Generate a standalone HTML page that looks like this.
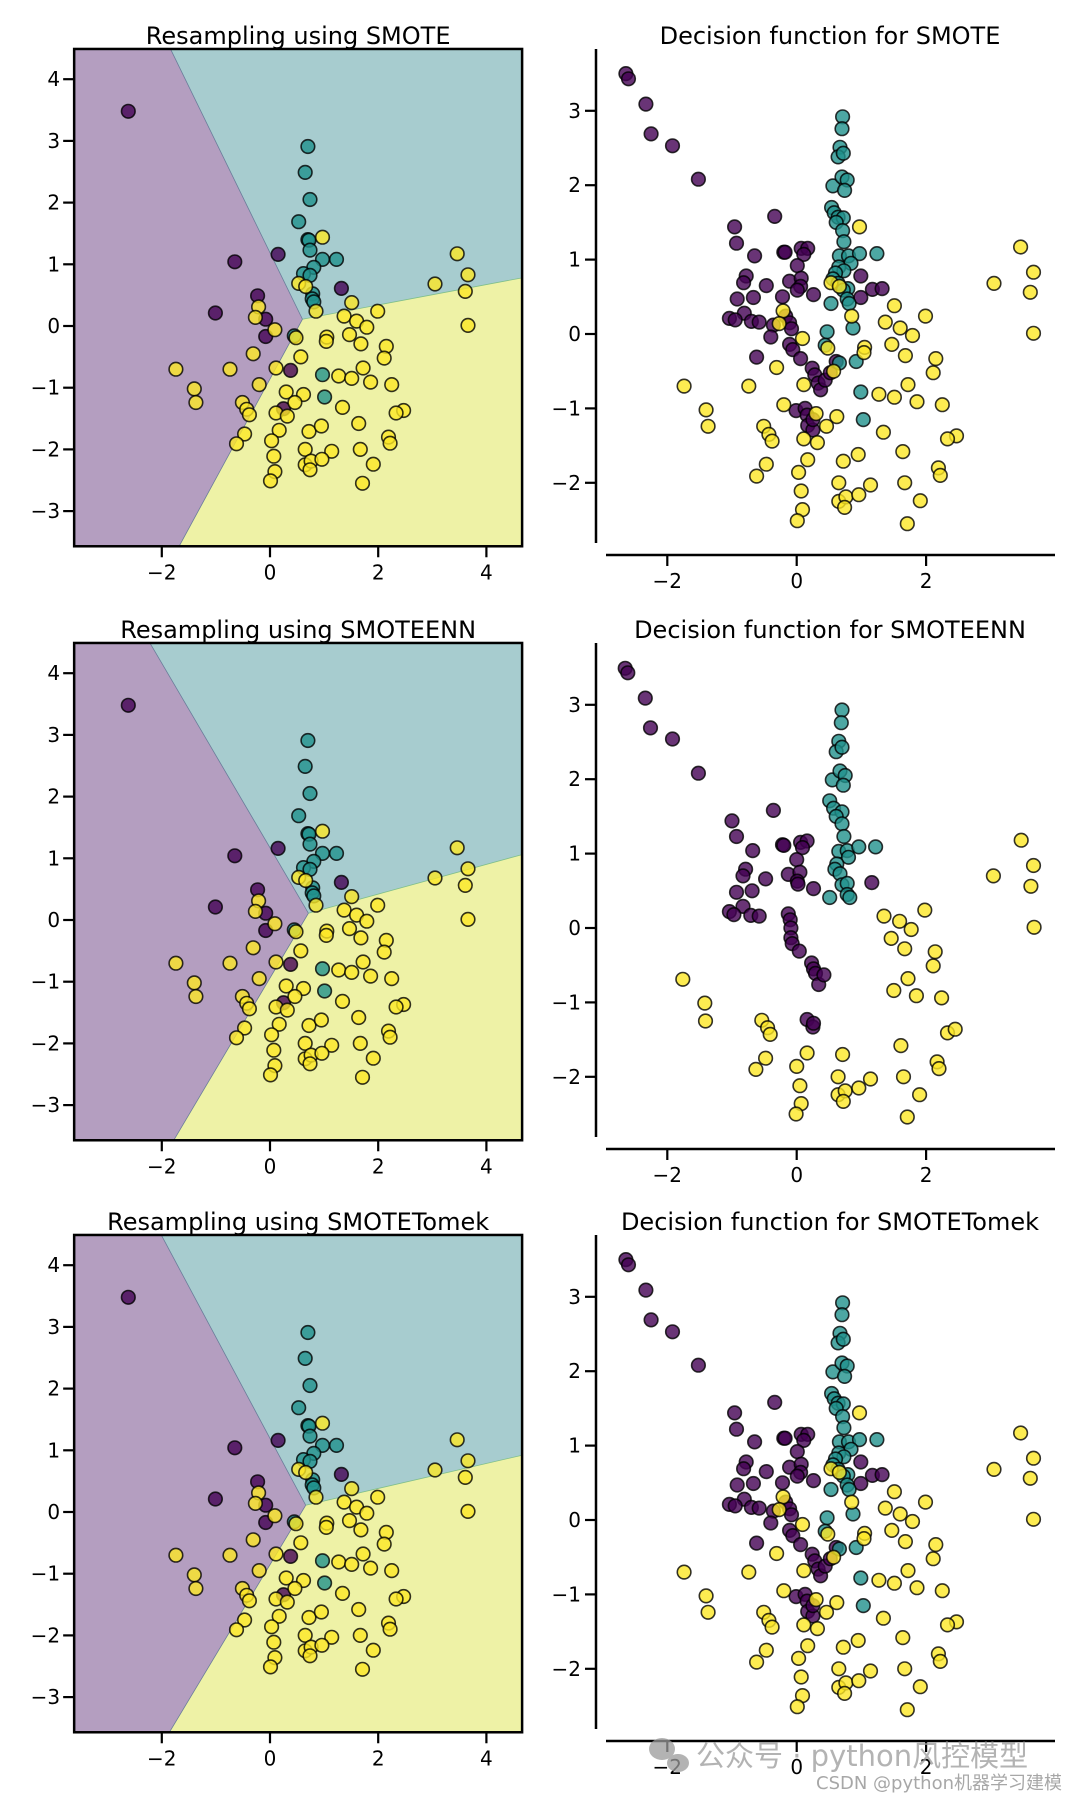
<!DOCTYPE html>
<html><head><meta charset="utf-8"><style>
html,body{margin:0;padding:0;background:#fff;}
svg{display:block;}
text{font-family:"DejaVu Sans","Liberation Sans",sans-serif;}
</style></head><body>
<svg id="fig" width="1080" height="1800" viewBox="0 0 1080 1800" xmlns="http://www.w3.org/2000/svg"></svg>
<script>
// ---------- data ----------
const titlesLeft = ["Resampling using SMOTE","Resampling using SMOTEENN","Resampling using SMOTETomek"];
const titlesRight = ["Decision function for SMOTE","Decision function for SMOTEENN","Decision function for SMOTETomek"];
const leftXTicks = [-2,0,2,4];
const leftYTicks = [-3,-2,-1,0,1,2,3,4];
const rightXTicks = [-2,0,2];
const rightYTicks = [-2,-1,0,1,2,3];
// decision boundaries per panel: [topX, junctionX, junctionY, bottomX, rightEdgeY]
const boundSMOTE = [-1.84,0.60,0.11,-1.68,0.78];
const boundSMOTEENN = [-2.22,0.71,0.11,-1.78,1.06];
const boundSMOTETomek = [-2.01,0.66,0.11,-1.86,0.92];

const origPurple = [[-2.62,3.48],[-0.65,1.04],[0.15,1.16],[-0.23,0.49],[-1.01,0.21],[-0.08,0.11],[-0.08,-0.17],[0.38,-0.72],[1.32,0.61],[0.25,-1.34]];
const origTeal = [[0.70,2.91],[0.65,2.49],[0.74,2.05],[0.53,1.69],[0.70,1.40],[0.72,1.39],[0.74,1.23],[0.97,1.08],[1.23,1.08],[0.81,0.95],[0.62,0.85],[0.74,0.82],[0.79,0.52],[0.78,0.44],[0.81,0.39],[0.45,-0.16],[0.97,-0.79],[1.01,-1.15]];
const origYellow = [[0.97,1.44],[3.46,1.17],[3.66,0.83],[3.05,0.68],[3.61,0.56],[3.66,0.01],[0.53,0.69],[0.66,0.64],[1.51,0.38],[0.85,0.24],[1.99,0.24],[1.37,0.16],[1.60,0.08],[1.79,-0.02],[-0.21,0.31],[-0.27,0.14],[0.09,-0.06],[0.48,-0.19],[1.05,-0.18],[1.04,-0.25],[1.47,-0.14],[1.68,-0.29],[2.15,-0.33],[2.11,-0.52],[-0.31,-0.45],[0.57,-0.50],[-1.74,-0.70],[-0.74,-0.70],[0.11,-0.68],[1.72,-0.68],[-0.20,-0.95],[1.27,-0.81],[1.51,-0.85],[1.86,-0.91],[2.25,-0.95],[-1.40,-1.02],[-1.37,-1.24],[0.30,-1.07],[0.62,-1.11],[0.46,-1.24],[-0.51,-1.24],[-0.43,-1.35],[-0.38,-1.44],[1.34,-1.32],[0.11,-1.41],[0.32,-1.46],[2.47,-1.37],[2.33,-1.41],[1.64,-1.58],[-0.47,-1.75],[-0.62,-1.91],[0.17,-1.69],[0.72,-1.71],[0.95,-1.62],[2.19,-1.80],[2.22,-1.90],[0.03,-1.86],[0.07,-2.11],[0.65,-2.00],[1.14,-2.03],[1.67,-2.00],[0.65,-2.25],[0.76,-2.19],[0.74,-2.33],[0.96,-2.16],[1.91,-2.24],[0.09,-2.36],[0.01,-2.51],[1.71,-2.55]];

const smotePurple = [[-2.64,3.50],[-2.60,3.43],[-2.33,3.09],[-2.25,2.69],[-1.92,2.53],[-1.52,2.08],[-0.96,1.44],[-0.93,1.22],[-0.34,1.58],[-0.65,1.05],[-0.20,1.10],[-0.18,1.10],[0.07,1.15],[0.17,1.15],[0.11,1.07],[0.01,0.92],[-0.78,0.78],[-0.82,0.69],[-0.47,0.65],[-0.11,0.71],[0.07,0.75],[0.06,0.64],[0.01,0.59],[0.26,0.53],[-0.92,0.47],[-0.67,0.49],[-0.22,0.50],[0.99,0.78],[1.17,0.60],[1.32,0.61],[0.99,0.49],[-0.81,0.28],[-1.04,0.21],[-0.95,0.19],[-0.70,0.17],[-0.58,0.16],[-0.36,0.12],[-0.40,-0.04],[-0.17,0.24],[-0.11,0.15],[-0.08,0.07],[-0.11,-0.14],[-0.06,-0.21],[0.06,-0.33],[-0.62,-0.31],[0.24,-0.46],[0.28,-0.55],[0.33,-0.66],[0.37,-0.75],[0.44,-0.62],[0.52,-0.52],[0.61,-0.37],[-0.01,-1.03],[0.13,-1.00],[0.16,-1.09],[0.17,-1.23],[0.25,-1.29],[0.25,-1.15]];
const smoteTeal = [[0.71,2.92],[0.70,2.76],[0.67,2.51],[0.64,2.38],[0.72,2.43],[0.56,1.99],[0.70,2.11],[0.78,2.07],[0.74,1.93],[0.54,1.70],[0.58,1.63],[0.64,1.57],[0.72,1.56],[0.61,1.50],[0.71,1.39],[0.73,1.24],[0.66,1.05],[0.80,1.05],[0.97,1.08],[1.24,1.08],[0.84,0.95],[0.65,0.90],[0.73,0.85],[0.60,0.82],[0.56,0.74],[0.64,0.68],[0.79,0.61],[0.72,0.59],[0.78,0.47],[0.81,0.41],[0.53,0.41],[0.47,0.03],[0.87,0.08],[0.44,-0.15],[0.66,-0.39],[0.92,-0.37],[0.99,-0.78],[1.03,-1.15]];

const ennPurple = [[-2.65,3.49],[-2.61,3.43],[-2.34,3.09],[-2.26,2.69],[-1.92,2.54],[-1.52,2.08],[-0.36,1.58],[-1.00,1.44],[-0.93,1.23],[-0.68,1.04],[-0.22,1.12],[-0.20,1.11],[0.06,1.15],[0.16,1.17],[0.09,1.08],[0.00,0.92],[-0.79,0.79],[-0.83,0.70],[-0.48,0.66],[-0.13,0.72],[0.05,0.75],[0.01,0.63],[0.02,0.59],[0.26,0.53],[-0.93,0.48],[-0.69,0.50],[1.16,0.61],[-0.83,0.29],[-1.04,0.22],[-0.97,0.18],[-0.71,0.17],[-0.58,0.16],[-0.13,0.19],[-0.10,0.11],[-0.09,0.00],[-0.09,-0.13],[-0.07,-0.21],[0.04,-0.31],[0.23,-0.47],[0.26,-0.55],[0.29,-0.61],[0.34,-0.76],[0.42,-0.63],[0.16,-1.23],[0.25,-1.33],[0.26,-1.28]];
const ennTeal = [[0.70,2.93],[0.69,2.76],[0.65,2.51],[0.61,2.37],[0.70,2.43],[0.55,1.99],[0.67,2.11],[0.75,2.05],[0.72,1.92],[0.51,1.71],[0.57,1.61],[0.70,1.56],[0.61,1.50],[0.70,1.40],[0.73,1.23],[0.65,1.03],[0.78,1.04],[0.96,1.09],[1.22,1.09],[0.80,0.95],[0.62,0.86],[0.59,0.79],[0.67,0.73],[0.70,0.58],[0.78,0.60],[0.78,0.45],[0.82,0.41],[0.51,0.41]];
const ennYellow = [[-1.76,-0.69],[-1.42,-1.01],[-1.41,-1.25],[-0.54,-1.24],[-0.45,-1.34],[-0.41,-1.43],[-0.48,-1.75],[-0.63,-1.90],[0.16,-1.68],[0.00,-1.86],[0.05,-2.12],[0.07,-2.36],[-0.01,-2.50],[0.71,-1.70],[0.64,-2.00],[0.64,-2.24],[0.75,-2.19],[0.72,-2.33],[0.96,-2.15],[1.14,-2.03],[1.61,-1.58],[1.65,-2.00],[1.90,-2.24],[1.71,-2.54],[2.17,-1.80],[2.20,-1.89],[2.33,-1.41],[2.45,-1.36],[1.50,-0.84],[1.72,-0.68],[1.85,-0.91],[2.24,-0.94],[2.14,-0.32],[2.11,-0.51],[1.35,0.16],[1.59,0.09],[1.77,-0.02],[1.98,0.24],[1.46,-0.14],[1.67,-0.28],[3.04,0.70],[3.47,1.18],[3.66,0.84],[3.62,0.56],[3.67,0.01]];

// ---------- drawing ----------
const NS = "http://www.w3.org/2000/svg";
const svg = document.getElementById('fig');
const COL = {p:"#440154", t:"#21918c", y:"#fde725"};
const rowOff = [0,594,1186];
function mk(tag, attrs, parent){
  const e = document.createElementNS(NS, tag);
  for (const k in attrs) e.setAttribute(k, attrs[k]);
  (parent||svg).appendChild(e);
  return e;
}
const LX = x => 270 + 54.1*x;
const LY = (y,o) => o + 326 - 61.7*y;
const RX = x => 796.7 + 64.7*x;
const RY = (y,o) => o + 334 - 74.4*y;
const L_XMIN=-3.62, L_XMAX=4.66, L_YMIN=-3.57, L_YMAX=4.49;

function scatter(g, pts, color, fx, fy, o, name){
  pts.forEach(p=>{
    const c = mk('circle',{cx:fx(p[0]).toFixed(1), cy:fy(p[1],o).toFixed(1), r:6.8, fill:color, 'fill-opacity':0.8, stroke:'#000', 'stroke-opacity':0.8, 'stroke-width':1.6}, g);
    
    
  });
}

function leftPanel(i, bound){
  const o = rowOff[i];
  const g = mk('g',{});
  
  
  const x0=LX(L_XMIN), x1=LX(L_XMAX), yT=LY(L_YMAX,o), yB=LY(L_YMIN,o);
  const top=[LX(bound[0]),yT], jn=[LX(bound[1]),LY(bound[2],o)], bot=[LX(bound[3]),yB], rt=[x1,LY(bound[4],o)];
  const pp = mk('polygon',{points:[[x0,yT],top,jn,bot,[x0,yB]].map(a=>a.join(',')).join(' '), fill:'rgb(180,158,192)'}, g);
   
  const tp = mk('polygon',{points:[top,[x1,yT],rt,jn].map(a=>a.join(',')).join(' '), fill:'rgb(167,204,207)'}, g);
   
  const yp = mk('polygon',{points:[jn,rt,[x1,yB],bot].map(a=>a.join(',')).join(' '), fill:'rgb(238,242,166)'}, g);
   
  mk('polyline',{points:[top,jn,bot].map(a=>a.join(',')).join(' '), fill:'none', stroke:'#6a7d9a', 'stroke-width':0.8}, g);
  mk('line',{x1:jn[0],y1:jn[1],x2:rt[0],y2:rt[1], stroke:'#7fbf8a','stroke-width':0.8}, g);
  scatter(g, origPurple, COL.p, LX, LY, o, 'point-class-0');
  scatter(g, origTeal, COL.t, LX, LY, o, 'point-class-1');
  scatter(g, origYellow, COL.y, LX, LY, o, 'point-class-2');
  const fr = mk('rect',{x:x0,y:yT,width:x1-x0,height:yB-yT,fill:'none',stroke:'#000','stroke-width':2.5}, g);
   
  leftXTicks.forEach(v=>{
    const x=LX(v);
    mk('line',{x1:x,y1:yB,x2:x,y2:yB+11,stroke:'#000','stroke-width':2.2}, g);
    const t=mk('text',{x:x,y:yB+33,'font-size':20,'text-anchor':'middle'}, g);
    t.textContent = v<0 ? '\u2212'+Math.abs(v) : String(v);
     
  });
  leftYTicks.forEach(v=>{
    const y=LY(v,o);
    mk('line',{x1:x0-11,y1:y,x2:x0,y2:y,stroke:'#000','stroke-width':2.2}, g);
    const t=mk('text',{x:x0-14,y:y+7,'font-size':20,'text-anchor':'end'}, g);
    t.textContent = v<0 ? '\u2212'+Math.abs(v) : String(v);
     
  });
  const tt = mk('text',{x:(x0+x1)/2,y:o+44,'font-size':24,'text-anchor':'middle'}, g);
  tt.textContent = titlesLeft[i];
   
}

function rightPanel(i, purple, teal, yellow){
  const o = rowOff[i];
  const g = mk('g',{});
  
  
  scatter(g, purple, COL.p, RX, RY, o, 'point-class-0');
  scatter(g, teal, COL.t, RX, RY, o, 'point-class-1');
  scatter(g, yellow, COL.y, RX, RY, o, 'point-class-2');
  const ys = mk('line',{x1:596,y1:o+49,x2:596,y2:o+543,stroke:'#000','stroke-width':2.5}, g);
   
  const xs = mk('line',{x1:606,y1:o+555,x2:1055,y2:o+555,stroke:'#000','stroke-width':2.5}, g);
   
  rightXTicks.forEach(v=>{
    const x=RX(v);
    mk('line',{x1:x,y1:o+555,x2:x,y2:o+566,stroke:'#000','stroke-width':2.2}, g);
    const t=mk('text',{x:x,y:o+588,'font-size':20,'text-anchor':'middle'}, g);
    t.textContent = v<0 ? '\u2212'+Math.abs(v) : String(v);
     
  });
  rightYTicks.forEach(v=>{
    const y=RY(v,o);
    mk('line',{x1:585,y1:y,x2:596,y2:y,stroke:'#000','stroke-width':2.2}, g);
    const t=mk('text',{x:581,y:y+7,'font-size':20,'text-anchor':'end'}, g);
    t.textContent = v<0 ? '\u2212'+Math.abs(v) : String(v);
     
  });
  const tt = mk('text',{x:830,y:o+44,'font-size':24,'text-anchor':'middle'}, g);
  tt.textContent = titlesRight[i];
   
}

leftPanel(0, boundSMOTE);
leftPanel(1, boundSMOTEENN);
leftPanel(2, boundSMOTETomek);
rightPanel(0, smotePurple, smoteTeal, origYellow);
rightPanel(1, ennPurple, ennTeal, ennYellow);
rightPanel(2, smotePurple, smoteTeal, origYellow);

// watermark
const wm = mk('g',{opacity:0.75});


mk('ellipse',{cx:662,cy:1749,rx:13,ry:11,fill:'#9a9a9a'}, wm);
mk('ellipse',{cx:678,cy:1763,rx:11,ry:9,fill:'#9a9a9a'}, wm);
const w1 = mk('text',{x:696,y:1766,'font-size':29,fill:'#9a9a9a','font-family':'"Liberation Sans","Noto Sans CJK SC",sans-serif'}, wm);
w1.textContent = '公众号 · python风控模型';
const w2 = mk('text',{x:816,y:1789,'font-size':18,fill:'#8a8a8a','font-family':'"Liberation Sans","Noto Sans CJK SC",sans-serif'}, wm);
w2.textContent = 'CSDN @python机器学习建模';
</script>
</body></html>
